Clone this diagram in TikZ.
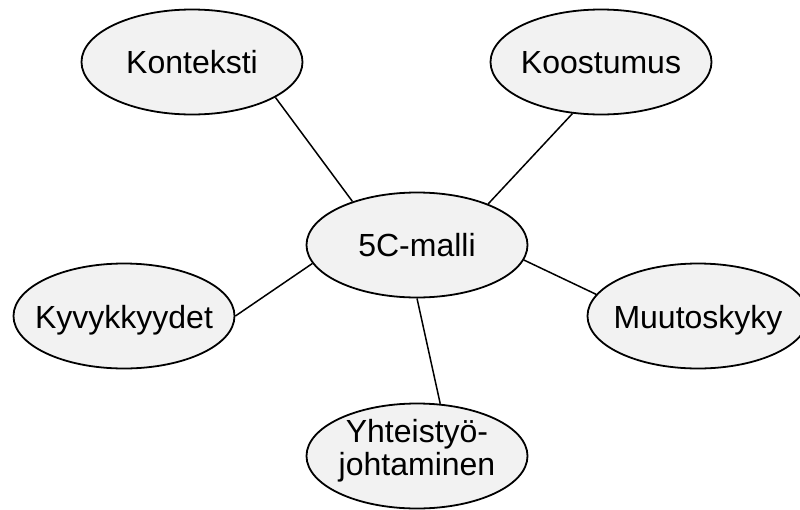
\documentclass[tikz,border=0pt]{standalone}
\usepackage{fontspec}
\setmainfont{Liberation Sans}
\usetikzlibrary{shapes.geometric}
\definecolor{bubblefill}{HTML}{F2F2F2}
\tikzset{
  bubble/.style={ellipse, draw=black, line width=1.8pt, fill=bubblefill,
    minimum width=221pt, minimum height=105pt, inner sep=0pt},
  caption/.style={anchor=base, inner sep=0pt, align=center,
    font=\fontsize{32}{33}\selectfont},
  link/.style={draw=black, line width=1.5pt}
}
\begin{document}
\begin{tikzpicture}[x=1pt,y=-1pt]
  \useasboundingbox[fill=white] (0,0) rectangle (800,509);

  % central concept and its five components
  \node[bubble] (core) at (417,245) {};
  \node[bubble] (kon)  at (192,62)  {};
  \node[bubble] (koo)  at (601,62)  {};
  \node[bubble] (kyv)  at (124,316) {};
  \node[bubble] (muu)  at (698,316) {};
  \node[bubble] (yht)  at (417,456) {};

  % texts, placed on their (last) baselines
  \node[caption] (coret) at (417,256.5) {5C-malli};
  \node[caption] (kont)  at (192,73.5)  {Konteksti};
  \node[caption] (koot)  at (601,73.5)  {Koostumus};
  \node[caption] (kyvt)  at (124,328)   {Kyvykkyydet};
  \node[caption] (muut)  at (698,328)   {Muutoskyky};
  \node[caption] (yhtt)  at (417,475)   {Yhteistyö-\\johtaminen};

  % spokes
  \draw[link] (kon.-23) -- (core.146);
  \draw[link] (koo.-119) -- (core.30);
  \draw[link] (kyv.0) -- (core.-170);
  \draw[link] (muu.168) -- (core.-8);
  \draw[link] (yht.66) -- (core.-90);
\end{tikzpicture}
\end{document}
